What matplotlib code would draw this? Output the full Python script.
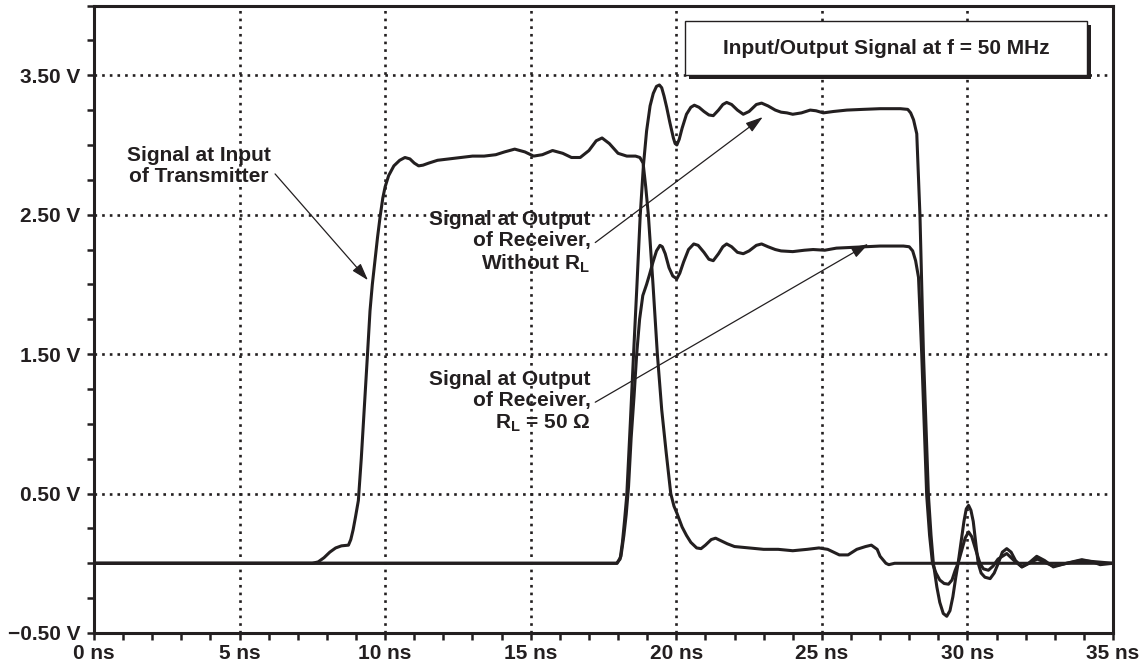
import matplotlib
matplotlib.use('Agg')
import matplotlib.pyplot as plt
from matplotlib.patches import Rectangle
from matplotlib.ticker import MultipleLocator, FixedLocator

plt.rcParams['font.family'] = ['Liberation Sans', 'DejaVu Sans']
plt.rcParams['font.weight'] = 'bold'
plt.rcParams['mathtext.fontset'] = 'custom'
plt.rcParams['mathtext.rm'] = 'Liberation Sans:bold'
plt.rcParams['mathtext.bf'] = 'Liberation Sans:bold'

INK = '#231f20'

# signal at input of transmitter (ns, V)
t_in = [0, 7.5, 7.7, 7.9, 8.1, 8.3, 8.5, 8.74, 8.82, 8.9, 8.98, 9.08, 9.18,
        9.28, 9.38, 9.48, 9.56, 9.65, 9.74, 9.83, 9.92, 10.0, 10.12, 10.3,
        10.5, 10.68, 10.85, 11.0, 11.15, 11.3, 11.5, 11.8, 12.2, 12.6, 13.0,
        13.4, 13.8, 14.1, 14.45, 14.8, 15.1, 15.4, 15.75, 16.1, 16.4, 16.7,
        17.0, 17.25, 17.45, 17.7, 18.0, 18.3, 18.6, 18.75, 18.86, 18.95, 19.04,
        19.2, 19.35, 19.5, 19.65, 19.81, 19.92, 20.02, 20.2, 20.35, 20.5, 20.7,
        20.85, 21.0, 21.2, 21.35, 21.55, 21.75, 22.0, 22.5, 23.0, 23.5, 24.0,
        24.5, 24.9, 25.2, 25.6, 25.9, 26.2, 26.5, 26.7, 26.9, 27.0, 27.2, 27.3,
        27.5, 35]
v_in = [0, 0, 0.01, 0.04, 0.08, 0.11, 0.125, 0.13, 0.17, 0.24, 0.33, 0.45,
        0.75, 1.1, 1.45, 1.81, 2.0, 2.17, 2.34, 2.49, 2.62, 2.7, 2.78, 2.85,
        2.89, 2.91, 2.9, 2.87, 2.85, 2.855, 2.87, 2.89, 2.9, 2.91, 2.92,
        2.92, 2.93, 2.95, 2.97, 2.95, 2.92, 2.93, 2.96, 2.94, 2.91, 2.91,
        2.96, 3.03, 3.05, 3.01, 2.94, 2.92, 2.92, 2.91, 2.87, 2.7, 2.5,
        2.0, 1.5, 1.1, 0.8, 0.5, 0.41, 0.36, 0.26, 0.2, 0.15, 0.11,
        0.105, 0.13, 0.17, 0.18, 0.16, 0.14, 0.12, 0.11, 0.1, 0.1, 0.09,
        0.1, 0.11, 0.1, 0.06, 0.06, 0.1, 0.12, 0.13, 0.1, 0.05, 0.0, -0.01,
        0.0, 0.0]

# signal at output of receiver, without R_L
t_open = [0, 17.95, 18.07, 18.15, 18.22, 18.3, 18.42, 18.53, 18.65, 18.76,
          18.87, 18.98, 19.1, 19.21, 19.32, 19.42, 19.5, 19.58, 19.67, 19.78,
          19.9, 19.96, 20.02, 20.1, 20.2, 20.35, 20.5, 20.62, 20.78, 20.95,
          21.12, 21.27, 21.45, 21.6, 21.73, 21.9, 22.1, 22.3, 22.5, 22.75, 22.93,
          23.15, 23.4, 23.6, 23.8, 24.0, 24.3, 24.6, 24.8, 25.05, 25.4, 25.86,
          26.4, 27.0, 27.7, 27.95, 28.05, 28.15, 28.26, 28.37, 28.49, 28.66,
          28.75, 28.83, 28.95, 29.05, 29.17, 29.29, 29.4, 29.5, 29.6, 29.68,
          29.78, 29.88, 29.96, 30.04, 30.12, 30.2, 30.3, 30.37, 30.47, 30.6,
          30.78, 30.92, 31.06, 31.2, 31.35, 31.5, 31.65, 31.87, 32.1, 32.38,
          32.65, 32.95, 33.4, 33.93, 34.3, 34.56, 35]
v_open = [0, 0, 0.03, 0.15, 0.3, 0.49, 1.0, 1.49, 2.0, 2.49,
          2.85, 3.1, 3.28, 3.37, 3.42, 3.43, 3.41, 3.35, 3.27, 3.16,
          3.05, 3.01, 3.0, 3.04, 3.12, 3.22, 3.27, 3.285, 3.27, 3.24,
          3.215, 3.21, 3.25, 3.29, 3.305, 3.29, 3.25, 3.22, 3.24, 3.29, 3.3,
          3.28, 3.25, 3.235, 3.23, 3.22, 3.23, 3.25, 3.245, 3.23, 3.24, 3.25,
          3.255, 3.26, 3.26, 3.255, 3.23, 3.18, 3.08, 2.49, 1.50, 0.49,
          0.2, 0.0, -0.17, -0.28, -0.36, -0.38, -0.34, -0.24, -0.1, 0.0,
          0.15, 0.3, 0.39, 0.415, 0.38, 0.3, 0.12, 0.0, -0.07, -0.1,
          -0.11, -0.07, 0.0, 0.08, 0.105, 0.08, 0.02, -0.026, 0.0, 0.05,
          0.02, -0.026, 0.0, 0.026, 0.01, -0.01, 0.0]

# signal at output of receiver, R_L = 50 ohm
t_50 = [0, 17.97, 18.1, 18.2, 18.28, 18.36, 18.45, 18.55, 18.64, 18.74, 18.85,
        18.98, 19.08, 19.2, 19.32, 19.44, 19.52, 19.62, 19.75, 19.88, 20.02,
        20.12, 20.25, 20.42, 20.6, 20.75, 20.95, 21.12, 21.27, 21.45, 21.6,
        21.73, 21.9, 22.1, 22.3, 22.5, 22.75, 22.93, 23.15, 23.4, 23.6, 24.0,
        24.4, 24.7, 25.1, 25.5, 26.0, 27.0, 27.8, 28.0, 28.12, 28.22, 28.32,
        28.43, 28.6, 28.7, 28.8, 28.92, 29.05, 29.2, 29.35, 29.47, 29.58, 29.68,
        29.8, 29.92, 30.04, 30.15, 30.28, 30.43, 30.55, 30.72, 30.88, 31.05,
        31.35, 31.6, 31.87, 32.4, 32.95, 33.9, 35]
v_50 = [0, 0, 0.05, 0.2, 0.35, 0.55, 0.9, 1.2, 1.5, 1.75, 1.92,
        2.0, 2.07, 2.16, 2.24, 2.28, 2.27, 2.22, 2.12, 2.06, 2.04,
        2.08, 2.16, 2.25, 2.29, 2.28, 2.23, 2.18, 2.17, 2.22, 2.27,
        2.29, 2.27, 2.23, 2.22, 2.24, 2.28, 2.29, 2.27, 2.25, 2.24, 2.235,
        2.245, 2.25, 2.245, 2.26, 2.265, 2.275, 2.275, 2.27, 2.24, 2.17, 2.05,
        1.50, 0.49, 0.2, 0.0, -0.07, -0.12, -0.145, -0.15, -0.12, -0.05, 0.0,
        0.09, 0.18, 0.225, 0.19, 0.1, 0.0, -0.04, -0.05, -0.02, 0.03,
        0.07, 0.02, -0.026, 0.03, -0.02, 0.02, 0.0]

x_major = [0, 5, 10, 15, 20, 25, 30, 35]
x_labels = ['0 ns', '5 ns', '10 ns', '15 ns', '20 ns', '25 ns', '30 ns', '35 ns']
y_major = [-0.5, 0.5, 1.5, 2.5, 3.5]
y_labels = ['\u22120.50 V', '0.50 V', '1.50 V', '2.50 V', '3.50 V']

W, H = 1141, 668
fig = plt.figure(figsize=(W / 100, H / 100), dpi=100)
ax = fig.add_axes([94 / W, 1 - 633 / H, (1113 - 94) / W, (633 - 5.5) / H])

ax.set_xlim(0, 35)
ax.set_ylim(-0.5, 4.0)

# dotted grid (only at labelled levels, not at the outer edges)
grid_ls = (0, (1.0, 1.9))
for x in x_major[1:-1]:
    ax.axvline(x, color=INK, lw=1.9, ls=grid_ls, zorder=1)
for y in y_major[1:]:
    ax.axhline(y, color=INK, lw=1.9, ls=grid_ls, zorder=1)

for t, v in [(t_in, v_in), (t_open, v_open), (t_50, v_50)]:
    ax.plot(t, v, color=INK, lw=2.2, solid_joinstyle='round',
            solid_capstyle='round', zorder=3)

ax.xaxis.set_major_locator(FixedLocator(x_major))
ax.set_xticklabels(x_labels)
ax.xaxis.set_minor_locator(MultipleLocator(1))
ax.yaxis.set_major_locator(FixedLocator(y_major))
ax.set_yticklabels(y_labels)
ax.yaxis.set_minor_locator(MultipleLocator(0.25))
ax.tick_params(which='both', direction='out', length=5, width=1.8, color=INK)
ax.tick_params(axis='x', which='major', pad=3, labelsize=15, labelcolor=INK)
ax.tick_params(axis='y', which='major', pad=5, labelsize=15, labelcolor=INK)
for s in ax.spines.values():
    s.set_linewidth(2.2)
    s.set_color(INK)

fs = 15
arrow = dict(arrowstyle='-|>,head_length=0.7,head_width=0.22',
             color=INK, lw=0.9, shrinkA=0, shrinkB=0)

ax.annotate('Signal at Input\nof Transmitter', xy=(9.41, 2.03), xytext=(3.6, 2.85),
            ha='center', va='center', fontsize=fs, color=INK, linespacing=1.15,
            arrowprops=dict(arrow, relpos=(1.03, 0.3)))

ax.annotate('Signal at Output\nof Receiver,\nWithout R$_\\mathbf{L}$',
            xy=(22.97, 3.2), xytext=(17.05, 2.3), ha='right', va='center',
            fontsize=fs, color=INK, linespacing=1.15,
            arrowprops=dict(arrow, relpos=(1.03, 0.5)))

ax.annotate('Signal at Output\nof Receiver,\nR$_\\mathbf{L}$ = 50 \u03a9',
            xy=(26.6, 2.29), xytext=(17.05, 1.155), ha='right', va='center',
            fontsize=fs, color=INK, linespacing=1.15,
            arrowprops=dict(arrow, relpos=(1.03, 0.5)))

# title box with drop shadow
bx0, by0, bx1, by1 = 685, 21, 1087, 75
fig.patches.append(Rectangle(((bx0 + 4) / W, 1 - (by1 + 4) / H), (bx1 - bx0) / W,
                             (by1 - by0) / H, transform=fig.transFigure,
                             facecolor=INK, edgecolor='none', zorder=5))
fig.patches.append(Rectangle((bx0 / W, 1 - by1 / H), (bx1 - bx0) / W,
                             (by1 - by0) / H, transform=fig.transFigure,
                             facecolor='white', edgecolor=INK, lw=1.0, zorder=6))
fig.text((bx0 + bx1) / 2 / W, 1 - (by0 + by1) / 2 / H,
         'Input/Output Signal at f = 50 MHz', ha='center', va='center',
         fontsize=fs, color=INK, zorder=7)

fig.savefig('out.png', dpi=100)
